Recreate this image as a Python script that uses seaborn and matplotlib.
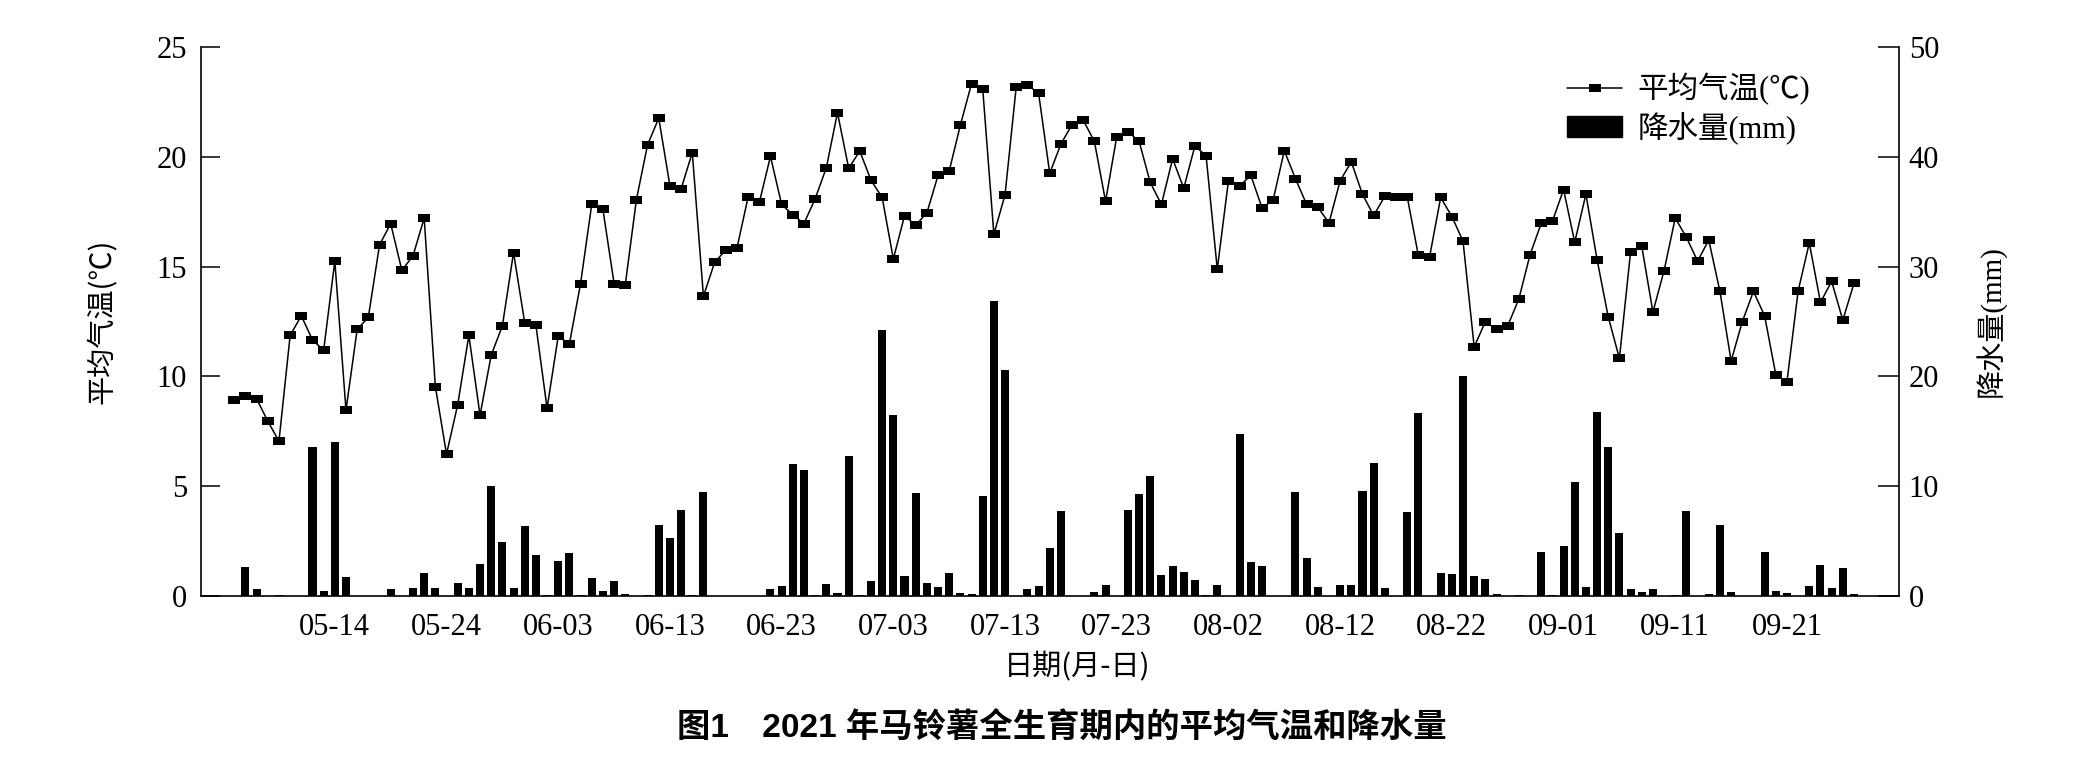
import numpy as np
import pandas as pd
import matplotlib
matplotlib.use('Agg')
import matplotlib.pyplot as plt
from matplotlib.path import Path
from matplotlib.lines import Line2D
from matplotlib.patches import Patch
import seaborn as sns

# daily data, 2021-05-05 .. 2021-09-27
start_date = '2021-05-05'
end_date = '2021-09-27'

temp = [8.93, 9.10, 8.98, 7.96, 7.05, 11.87, 12.76, 11.66, 11.19, 15.25,
        8.46, 12.14, 12.69, 15.98, 16.96, 14.83, 15.49, 17.21, 9.54, 6.46,
        8.71, 11.87, 8.23, 10.97, 12.30, 15.64, 12.44, 12.34, 8.55, 11.83,
        11.48, 14.23, 17.83, 17.61, 14.23, 14.17, 18.05, 20.55, 21.76, 18.68,
        18.54, 20.19, 13.65, 15.19, 15.76, 15.84, 18.17, 17.92, 20.02, 17.83,
        17.36, 16.96, 18.09, 19.50, 22.01, 19.48, 20.26, 18.93, 18.15, 15.35,
        17.31, 16.89, 17.44, 19.15, 19.35, 21.44, 23.33, 23.11, 16.47, 18.27,
        23.18, 23.26, 22.91, 19.25, 20.58, 21.47, 21.67, 20.70, 17.97, 20.92,
        21.14, 20.71, 18.83, 17.83, 19.91, 18.57, 20.50, 20.04, 14.88, 18.91,
        18.66, 19.16, 17.68, 18.03, 20.28, 19.00, 17.83, 17.70, 16.99, 18.91,
        19.77, 18.29, 17.33, 18.20, 18.19, 18.19, 15.51, 15.42, 18.15, 17.28,
        16.16, 11.34, 12.49, 12.14, 12.30, 13.53, 15.54, 16.97, 17.06, 18.51,
        16.11, 18.30, 15.32, 12.71, 10.82, 15.67, 15.93, 12.93, 14.82, 17.21,
        16.33, 15.25, 16.21, 13.87, 10.70, 12.49, 13.87, 12.76, 10.08, 9.76,
        13.89, 16.08, 13.37, 14.33, 12.56, 14.24]

rain = [0, 2.6, 0.6, 0, 0.1, 0, 0, 13.6, 0.5, 14.05,
        1.7, 0, 0, 0, 0.6, 0, 0.7, 2.1, 0.7, 0,
        1.15, 0.74, 2.9, 10.0, 4.9, 0.74, 6.34, 3.77, 0.13, 3.17,
        3.9, 0.07, 1.6, 0.5, 1.35, 0.2, 0, 0.1, 6.5, 5.3,
        7.8, 0.13, 9.5, 0, 0, 0, 0, 0, 0.67, 0.9,
        12.0, 11.5, 0.1, 1.1, 0.3, 12.74, 0.1, 1.35, 24.27, 16.45,
        1.82, 9.34, 1.2, 0.8, 2.1, 0.3, 0.2, 9.1, 26.86, 20.6,
        0, 0.67, 0.9, 4.4, 7.75, 0, 0, 0.34, 1.04, 0,
        7.79, 9.27, 10.95, 1.89, 2.7, 2.16, 1.48, 0.13, 0.98, 0,
        14.73, 3.1, 2.76, 0, 0, 9.47, 3.44, 0.8, 0, 0.98,
        0.98, 9.57, 12.1, 0.7, 0, 7.65, 16.68, 0, 2.09, 2.02,
        20.02, 1.85, 1.52, 0.2, 0, 0.1, 0, 4.04, 0.1, 4.55,
        10.38, 0.8, 16.75, 13.58, 5.73, 0.67, 0.37, 0.64, 0, 0.13,
        7.75, 0, 0.17, 6.47, 0.34, 0, 0, 4.04, 0.44, 0.24,
        0, 0.94, 2.86, 0.74, 2.53, 0.17]

tick_labels = ['05-14', '05-24', '06-03', '06-13', '06-23', '07-03', '07-13',
               '07-23', '08-02', '08-12', '08-22', '09-01', '09-11', '09-21']

sns.set_theme(style='ticks', rc={'axes.edgecolor': 'black', 'text.color': 'black',
                                 'xtick.color': 'black', 'ytick.color': 'black',
                                 'axes.labelcolor': 'black'})
plt.rcParams['font.family'] = ['Liberation Serif', 'Noto Sans CJK SC']
cjk = ['Noto Sans CJK SC', 'DejaVu Sans']

dates = pd.date_range(start_date, end_date)
df = pd.DataFrame({'day': np.arange(len(dates)),
                   'label': dates.strftime('%m-%d'),
                   'temp': temp, 'rain': rain})

# flat rectangle marker like the original
rect_marker = Path([(-1.45, -1), (1.45, -1), (1.45, 1), (-1.45, 1), (-1.45, -1)],
                   [Path.MOVETO, Path.LINETO, Path.LINETO, Path.LINETO, Path.CLOSEPOLY])

fig = plt.figure(figsize=(20.89, 7.80), dpi=100)
ax = fig.add_axes([201 / 2089, 1 - 596 / 780, (1899 - 201) / 2089, (596 - 47) / 780])
ax2 = ax.twinx()

sns.barplot(data=df, x='day', y='rain', ax=ax2, color='black', native_scale=True,
            width=0.72, saturation=1, errorbar=None, linewidth=0)
sns.lineplot(data=df, x='day', y='temp', ax=ax, color='black', lw=1.1,
             marker=rect_marker, markersize=8.6, markeredgewidth=0)

# line above the bars
ax.set_zorder(ax2.get_zorder() + 1)
ax.patch.set_visible(False)

ax.set_xlim(-2.98, 149.03)
ax.set_ylim(0, 25)
ax2.set_ylim(0, 50)
ax.set_yticks([0, 5, 10, 15, 20, 25])
ax2.set_yticks([0, 10, 20, 30, 40, 50])

tick_pos = df.loc[df['label'].isin(tick_labels), 'day'].tolist()
ax.set_xticks(tick_pos)
ax.set_xticklabels(tick_labels)

ax.set_xlabel('')
ax.set_ylabel('')
ax2.set_xlabel('')
ax2.set_ylabel('')

for a in (ax, ax2):
    a.spines['top'].set_visible(False)
    for s in a.spines.values():
        s.set_linewidth(1.2)
ax.spines['right'].set_visible(False)
ax2.spines['left'].set_visible(False)
ax2.spines['bottom'].set_visible(False)

ax.tick_params(axis='y', direction='in', length=14, width=1.1, labelsize=22, pad=10,
               left=True, right=False)
ax.tick_params(axis='x', length=0, labelsize=22, pad=12, bottom=True)
ax2.tick_params(axis='y', direction='in', length=15, width=1.1, labelsize=22, pad=7,
                right=True, left=False)

fig.text(102 / 2089, 1 - 321 / 780, '平均气温(℃)', rotation=90, ha='center', va='center',
         fontsize=21, family=cjk)
fig.text(1990 / 2089, 1 - 321 / 780, '降水量(mm)', rotation=90, ha='center', va='center',
         fontsize=21, family=['Liberation Serif', 'Noto Sans CJK SC'])
fig.text(1077 / 2089, 1 - 667 / 780, '日期(月-日)', ha='center', va='center',
         fontsize=21, family=cjk)
fig.text(1062 / 2089, 1 - 729 / 780, '图1　2021 年马铃薯全生育期内的平均气温和降水量',
         ha='center', va='center', fontsize=24, fontweight='bold',
         family=['Liberation Sans', 'Noto Sans CJK SC'])

handles = [Line2D([], [], color='black', lw=1.1, marker=rect_marker, markersize=8.6,
                  markeredgewidth=0),
           Patch(facecolor='black', edgecolor='black')]
ax.legend(handles, ['平均气温(℃)', '降水量(mm)'], loc='upper left',
          bbox_to_anchor=(1567 / 2089, 1 - 73 / 780), bbox_transform=fig.transFigure,
          frameon=False, fontsize=22, borderpad=0, borderaxespad=0,
          handlelength=1.8, handletextpad=0.5, labelspacing=0.2)

fig.savefig('out.png', dpi=100)
